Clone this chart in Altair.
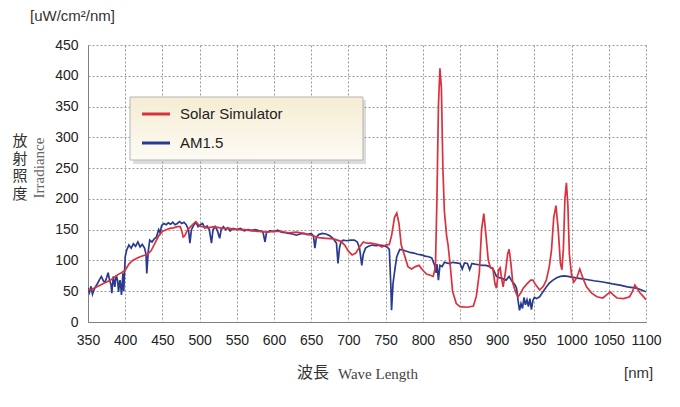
import altair as alt
import pandas as pd

# ---- data ----
wl_sim = [350, 355, 360, 365, 370, 375, 380, 385, 390, 395, 400, 405, 410, 415, 420, 425, 430, 435, 440, 445,
          450, 455, 460, 465, 470, 474, 476, 478, 480, 484, 488, 492, 495, 500, 510, 520, 530, 540, 550, 560,
          570, 580, 590, 600, 610, 620, 630, 640, 650, 660, 670, 680, 690, 695, 700, 705, 710, 715, 720, 725,
          730, 740, 745, 750, 755, 758, 762, 765, 768, 771, 775, 780, 785, 790, 795, 800, 805, 810, 814, 817,
          819, 821, 823, 825, 827, 829, 832, 834, 837, 840, 845, 850, 860, 868, 872, 876, 879, 882, 885, 888,
          891, 894, 897, 899, 902, 904, 906, 908, 911, 914, 916, 918, 921, 925, 928, 932, 935, 940, 945, 948,
          952, 957, 962, 966, 970, 973, 976, 979, 982, 985, 987, 989, 991, 993, 995, 997, 1000, 1003, 1007, 1011,
          1015, 1020, 1027, 1034, 1042, 1047, 1052, 1056, 1061, 1070, 1078, 1082, 1085, 1088, 1092, 1096, 1100]
irr_sim = [52, 53, 56, 59, 62, 65, 68, 72, 77, 80, 84, 94, 100, 103, 106, 108, 110, 116, 128, 140,
           147, 150, 152, 153, 155, 155, 148, 138, 140, 150, 155, 160, 163, 156, 153, 155, 152, 152, 150, 150,
           148, 147, 146, 147, 147, 145, 146, 144, 141, 137, 136, 135, 131, 125, 115, 109, 112, 122, 130, 128,
           128, 126, 122, 125, 126, 140, 170, 177, 160, 125, 110, 90, 86, 90, 92, 84, 78, 76, 74, 90,
           200, 350, 412, 380, 250, 180, 140, 125, 90, 50, 30, 25, 24, 26, 42, 80, 150, 176, 140, 100,
           88, 88, 62, 55, 85, 88, 70, 57, 80, 110, 118, 100, 63, 48, 41, 48, 55, 62, 68, 68,
           60, 52, 58, 68, 90, 117, 170, 189, 150, 95, 85, 120, 200, 226, 190, 110, 76, 65, 72, 86,
           72, 57, 47, 41, 39, 44, 49, 44, 39, 38, 41, 50, 60, 55, 47, 42, 36]

wl_am = [350, 352, 354, 356, 358, 360, 363, 366, 368, 371, 373, 375, 377, 379, 381, 382, 384, 386, 388, 390,
         391, 393, 394, 395, 397, 398, 400, 402, 405, 408, 411, 414, 417, 420, 423, 426, 428, 429, 431, 433,
         436, 439, 442, 445, 447, 449, 452, 455, 458, 461, 464, 467, 470, 473, 476, 479, 482, 485, 487, 489,
         492, 495, 498, 501, 504, 507, 510, 513, 516, 518, 521, 524, 527, 529, 532, 535, 538, 541, 545, 550,
         555, 560, 565, 570, 575, 580, 585, 588, 590, 595, 600, 605, 610, 615, 620, 625, 630, 635, 640, 645,
         650, 653, 655, 657, 660, 665, 670, 675, 680, 684, 686, 688, 690, 693, 698, 703, 708, 712, 715, 718,
         720, 723, 727, 732, 737, 742, 747, 752, 755, 757, 758, 760, 763, 765, 769, 773, 778, 783, 788, 793,
         798, 803, 808, 812, 814, 816, 818, 819, 821, 823, 826, 829, 832, 836, 840, 845, 850, 853, 856, 860,
         863, 866, 870, 875, 880, 885, 890, 895, 899, 903, 908, 912, 916, 920, 924, 926, 928, 930, 932, 934,
         936, 938, 940, 942, 944, 946, 948, 950, 953, 957, 962, 966, 970, 975, 980, 985, 990, 995, 1000, 1010,
         1020, 1030, 1042, 1055, 1065, 1075, 1087, 1094, 1100]
irr_am = [55, 48, 58, 45, 52, 57, 63, 70, 74, 66, 65, 72, 80, 68, 60, 47, 74, 57, 76, 66,
          49, 68, 58, 44, 79, 50, 106, 117, 125, 120, 127, 123, 130, 122, 126, 120, 110, 79, 115, 133,
          130, 135, 138, 150, 145, 157, 160, 158, 161, 159, 162, 158, 160, 163, 160, 162, 158, 150, 128, 150,
          157, 162, 155, 158, 160, 153, 156, 150, 128, 150, 155, 148, 136, 150, 155, 150, 153, 148, 152, 150,
          152, 148, 150, 149, 150, 148, 147, 130, 146, 148, 147, 149, 146, 145, 144, 143, 141, 143, 144, 142,
          144, 140, 120, 138, 142, 144, 143, 140, 135, 128, 95, 120, 130, 133, 132, 133, 133, 130, 120, 92,
          110, 120, 123, 125, 124, 125, 124, 122, 118, 60, 19, 63, 90, 106, 118, 117, 115, 113, 112, 110,
          109, 107, 106, 104, 98, 92, 80, 94, 68, 92, 90, 97, 96, 95, 97, 96, 95, 86, 96, 95,
          85, 95, 94, 93, 92, 92, 90, 85, 74, 72, 70, 68, 74, 66, 60, 55, 35, 19, 30, 22,
          40, 28, 36, 25, 38, 20, 35, 40, 38, 41, 50, 57, 63, 68, 72, 74, 75, 74, 73, 71,
          69, 67, 65, 62, 60, 57, 55, 52, 49]

series_names = ["Solar Simulator", "AM1.5"]
x_ticks = list(range(350, 1101, 50))
y_ticks = list(range(0, 451, 50))
unit_label = "[uW/cm²/nm]"
y_title_ja = ["放", "射", "照", "度"]
y_title_en = "Irradiance"
x_title_ja = "波長"
x_title_en = "Wave Length"
x_unit = "[nm]"

df = pd.concat([
    pd.DataFrame({"wl": wl_sim, "irr": irr_sim, "series": series_names[0]}),
    pd.DataFrame({"wl": wl_am, "irr": irr_am, "series": series_names[1]}),
], ignore_index=True)

RED = "#d9323e"
BLUE = "#2a3a8e"
SANS = "Liberation Sans"
SERIF = "Liberation Serif"
CJK = "Noto Sans CJK JP"

xscale = alt.Scale(domain=[350, 1100], nice=False, zero=False)
yscale = alt.Scale(domain=[0, 450], nice=False)
xaxis = alt.Axis(values=x_ticks, title=None, grid=True, gridColor="#9a9a9a", gridDash=[2, 2],
                 domainColor="#808080", ticks=False, labelPadding=11, labelFontSize=14,
                 labelColor="#222", labelFont=SANS, format="d", labelOverlap=False, labelFlush=False)
yaxis = alt.Axis(values=y_ticks, title=None, grid=True, gridColor="#9a9a9a", gridDash=[2, 2],
                 domainColor="#808080", ticks=False, labelPadding=10, labelFontSize=14,
                 labelColor="#222", labelFont=SANS, format="d", labelOverlap=False, labelFlush=False)

color = alt.Color("series:N", scale=alt.Scale(domain=series_names, range=[RED, BLUE]), legend=None)
base = alt.Chart(df).mark_line(strokeWidth=1.7, clip=True).encode(
    x=alt.X("wl:Q", scale=xscale, axis=xaxis),
    y=alt.Y("irr:Q", scale=yscale, axis=yaxis),
    color=color,
)
am_line = base.transform_filter(alt.datum.series == series_names[1])
sim_line = base.transform_filter(alt.datum.series == series_names[0])


def txt(text, x, y, **kw):
    return alt.Chart(pd.DataFrame({"t": [text]})).mark_text(**kw).encode(
        x=alt.value(x), y=alt.value(y), text="t:N")


one = pd.DataFrame({"k": [0]})
grad = alt.LinearGradient(gradient="linear", x1=0, x2=0, y1=0, y2=1,
                          stops=[alt.GradientStop(color="#f5ecd2", offset=0),
                                 alt.GradientStop(color="#fdfbf5", offset=1)])
legend_shadow = alt.Chart(one).mark_rect(fill="#9a9a9a", opacity=0.35).encode(
    x=alt.value(45), x2=alt.value(278), y=alt.value(55), y2=alt.value(119))
legend_box = alt.Chart(one).mark_rect(fill=grad, stroke="#b5b5b5", strokeWidth=1).encode(
    x=alt.value(42), x2=alt.value(275), y=alt.value(52), y2=alt.value(115))
leg_red = alt.Chart(one).mark_rule(color=RED, strokeWidth=3).encode(
    x=alt.value(54), x2=alt.value(82), y=alt.value(69))
leg_blue = alt.Chart(one).mark_rule(color=BLUE, strokeWidth=3).encode(
    x=alt.value(54), x2=alt.value(82), y=alt.value(98))
leg_t1 = txt(series_names[0], 92, 69, align="left", baseline="middle", font=SANS, fontSize=15, color="#222")
leg_t2 = txt(series_names[1], 92, 98, align="left", baseline="middle", font=SANS, fontSize=15, color="#222")

t_unit = txt(unit_label, -58, -36, align="left", baseline="top", font=SANS, fontSize=15, color="#333")
t_yja = [txt(ch, -68, 96 + i * 17.5, align="center", baseline="middle", font=CJK, fontSize=15, color="#333")
         for i, ch in enumerate(y_title_ja)]
t_yen = txt(y_title_en, -49, 123, align="center", baseline="middle", angle=270, font=SERIF,
            fontSize=15, color="#666")
t_xja = txt(x_title_ja, 209, 328, align="left", baseline="middle", font=CJK, fontSize=16, color="#333")
t_xen = txt(x_title_en, 250, 329, align="left", baseline="middle", font=SERIF, fontSize=15, color="#444")
t_xunit = txt(x_unit, 536, 328, align="left", baseline="middle", font=SANS, fontSize=15, color="#333")

chart = alt.layer(
    am_line, sim_line,
    legend_shadow, legend_box, leg_red, leg_blue, leg_t1, leg_t2,
    t_unit, *t_yja, t_yen, t_xja, t_xen, t_xunit,
).properties(
    width=558, height=277,
    autosize=alt.AutoSizeParams(type="none"),
    padding={"left": 80, "top": 37, "right": 26, "bottom": 70},
).configure_view(stroke=None)

chart.save("out.html", embed_options={"renderer": "svg", "actions": False})
